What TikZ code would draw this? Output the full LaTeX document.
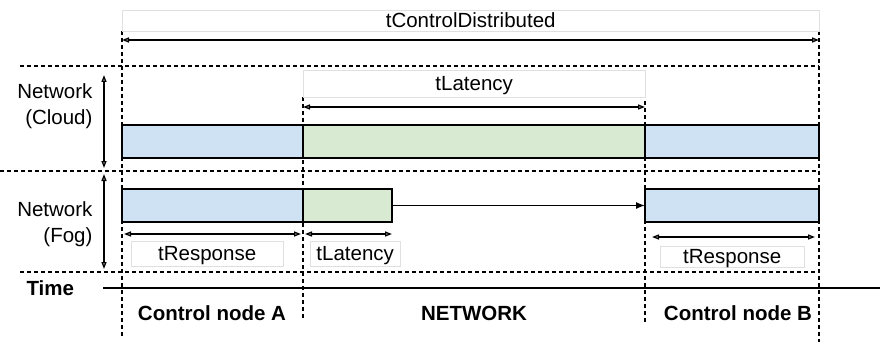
\documentclass[tikz,border=0pt]{standalone}
\usepackage{fontspec}
\setmainfont{Liberation Sans}
\usetikzlibrary{arrows.meta,positioning}
\definecolor{slotblue}{HTML}{CFE2F3}
\definecolor{slotgreen}{HTML}{D9EAD3}
\newcommand{\labelsize}{\fontsize{20.5}{26}\selectfont}

\begin{document}
\begin{tikzpicture}[x=1pt,y=-1pt,font=\labelsize,
	slot/.style={draw, line width=1.2pt, inner sep=0pt, outer sep=0pt, minimum height=33pt},
	guide/.style={dash pattern=on 4pt off 3pt, line width=1.2pt},
	span/.style={{Triangle[open,length=7pt,width=5pt]}-{Triangle[open,length=7pt,width=5pt]}, line width=1.3pt},
	tag/.style={draw=black!12, fill=white, inner sep=0pt, anchor=north west, text height=16pt, text depth=3pt},
	phase/.style={font=\labelsize\bfseries}]
	\useasboundingbox (0,0) rectangle (880,342);

	% guides
	\draw[guide] (20,66) -- (819,66);
	\draw[guide] (0,171) -- (819,171);
	\draw[guide] (20,272) -- (819,272);
	\draw[guide] (122,31) -- (122,336);
	\draw[guide] (303,97) -- (303,318);
	\draw[guide] (645,80) -- (645,324);
	\draw[guide] (819,31) -- (819,342);

	% cloud row
	\node[slot, fill=slotblue, minimum width=181pt, anchor=north west] (cloudA) at (122,125) {};
	\node[slot, fill=slotgreen, minimum width=342pt, right=0pt of cloudA] (cloudNet) {};
	\node[slot, fill=slotblue, minimum width=174pt, right=0pt of cloudNet] (cloudB) {};

	% fog row
	\node[slot, fill=slotblue, minimum width=181pt, anchor=north west] (fogA) at (122,189) {};
	\node[slot, fill=slotgreen, minimum width=89pt, right=0pt of fogA] (fogNet) {};
	\node[slot, fill=slotblue, minimum width=174pt, anchor=north west] (fogB) at (645,189) {};
	\draw[-{Latex[length=9pt,width=7pt]}, line width=1.3pt] (fogNet) -- (fogB);

	% durations
	\node[tag, minimum width=697pt, minimum height=21pt] (distTag) at (122,10) {tControlDistributed};
	\coordinate (distL) at (122,40);
	\coordinate (distR) at (819,40);
	\draw[span] (distL) -- (distR);

	\node[tag, minimum width=342pt, minimum height=27pt] (cloudLatTag) at (303,70) {tLatency};
	\coordinate (cloudLatL) at (303,107);
	\coordinate (cloudLatR) at (645,107);
	\draw[span] (cloudLatL) -- (cloudLatR);

	\node[tag, minimum width=152pt, minimum height=25pt] (respATag) at (131,241) {tResponse};
	\coordinate (respAL) at (124,234);
	\coordinate (respAR) at (301,234);
	\draw[span] (respAL) -- (respAR);

	\node[tag, minimum width=90pt, minimum height=25pt] (fogLatTag) at (310,241) {tLatency};
	\coordinate (fogLatL) at (305,234);
	\coordinate (fogLatR) at (392,234);
	\draw[span] (fogLatL) -- (fogLatR);

	\node[tag, minimum width=144pt, minimum height=21pt] (respBTag) at (660,246) {tResponse};
	\coordinate (respBL) at (652,237);
	\coordinate (respBR) at (815,237);
	\draw[span] (respBL) -- (respBR);

	% layers
	\node[align=right, anchor=east] (cloudLbl) at (96,106) {Network\\(Cloud)};
	\node[align=right, anchor=east] (fogLbl) at (96,224) {Network\\(Fog)};
	\coordinate (cloudTop) at (104,75);
	\coordinate (cloudBot) at (104,168);
	\coordinate (fogTop) at (104,174);
	\coordinate (fogBot) at (104,269);
	\draw[span] (cloudTop) -- (cloudBot);
	\draw[span] (fogTop) -- (fogBot);

	% time axis
	\node[phase, anchor=west] (timeLbl) at (23,288) {Time};
	\coordinate (timeL) at (103,288);
	\coordinate (timeR) at (880,288);
	\draw[line width=1.4pt] (timeL) -- (timeR);
	\node[phase] (phaseA) at (212,313) {Control node A};
	\node[phase] (phaseNet) at (474,313) {NETWORK};
	\node[phase] (phaseB) at (738,313) {Control node B};
\end{tikzpicture}
\end{document}
